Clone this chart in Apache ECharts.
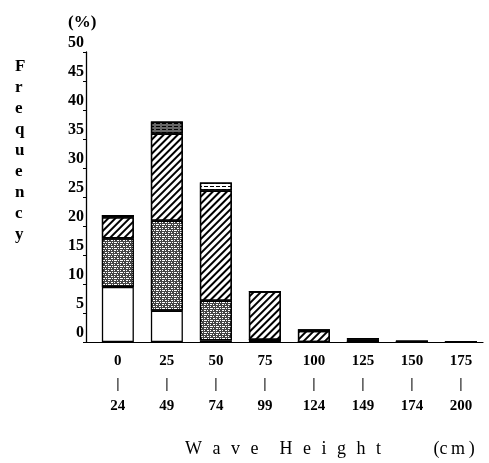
<!DOCTYPE html>
<html><head><meta charset="utf-8">
<script src="https://cdn.jsdelivr.net/npm/echarts@6/dist/echarts.min.js"></script>
<style>html,body{margin:0;padding:0;background:#fff}#c{width:489px;height:463px}</style>
</head><body><div id="c"></div>
<script>
// Wave height classes (cm)
var categories = ['0\n|\n24','25\n|\n49','50\n|\n74','75\n|\n99','100\n|\n124','125\n|\n149','150\n|\n174','175\n|\n200'];
// Frequency (%) by stacked segment, bottom to top
var whiteVals   = [9.5, 5.4, 0.3, 0.4, 0, 0, 0, 0];
var stippleVals = [8.4, 15.5, 6.8, 0, 0, 0, 0, 0];
var hatchVals   = [3.6, 15.0, 19.0, 8.3, 1.9, 0.4, 0, 0];
var topVals     = [0.4, 2.1, 1.4, 0, 0.3, 0.3, 0.25, 0.1];
var yTicks = [0,5,10,15,20,25,30,35,40,45,50];

var serif = '"Liberation Serif","DejaVu Serif",serif';
// value first, category index second (y is the stacked dimension)
function toData(arr){ return arr.map(function(v,i){ return [v, i]; }); }
var border = {borderColor:'#000', borderWidth:1.3};
var enc = {x:1, y:0};
var S = '\u2002\u200A';
var xTitle = ['W','a','v','e'].join(S) + S + S + ['H','e','i','g','h','t'].join(S) + S + S + S + S + S + '(c\u2009m\u2009)';

var chart = echarts.init(document.getElementById('c'), null, {renderer:'canvas'});
chart.setOption({
  animation:false,
  backgroundColor:'#fff',
  grid:{left:86, top:52, width:397, height:290},
  title:[
    {text:'(%)', left:63, top:9, textStyle:{fontFamily:serif, fontWeight:'bold', fontSize:17, color:'#000'}},
    {text:'F\nr\ne\nq\nu\ne\nn\nc\ny', left:10, top:51, textStyle:{fontFamily:serif, fontWeight:'bold', fontSize:17, lineHeight:21, color:'#000'}},
    {text:xTitle, left:180, top:435,
      textStyle:{fontFamily:serif, fontWeight:'normal', fontSize:18, color:'#000'}}
  ],
  xAxis:{
    type:'value', min:-0.65, max:7.45,
    splitLine:{show:false},
    axisLine:{show:true, onZero:false, lineStyle:{color:'#000', width:1.2}},
    axisTick:{show:false},
    axisLabel:{
      customValues:[0,1,2,3,4,5,6,7],
      formatter:function(v){ return categories[Math.round(v)]; },
      fontFamily:serif, fontWeight:'bold', fontSize:15, lineHeight:22.5, color:'#000', margin:8
    }
  },
  yAxis:{
    type:'value', min:0, max:50, interval:5,
    splitLine:{show:false},
    axisLine:{show:true, onZero:false, lineStyle:{color:'#000', width:1.3}},
    axisTick:{show:true, length:3, lineStyle:{color:'#000'}},
    axisLabel:{
      customValues:yTicks,
      fontFamily:serif, fontWeight:'bold', fontSize:16, color:'#000', margin:2,
      verticalAlign:'bottom', lineHeight:16, padding:[0,0,1,0]
    }
  },
  series:[
    {type:'bar', stack:'a', barWidth:32, encode:enc, data:toData(whiteVals),
      itemStyle:Object.assign({color:'#fff'}, border)},
    {type:'bar', stack:'a', barWidth:32, encode:enc, data:toData(stippleVals),
      itemStyle:Object.assign({color:'#444', decal:{symbol:'rect', symbolSize:1, dashArrayX:[[2,1,1,2],[1,2,2,1],[3,1,1,1]], dashArrayY:[1,1], color:'#fff'}}, border)},
    {type:'bar', stack:'a', barWidth:32, encode:enc, data:toData(hatchVals),
      itemStyle:Object.assign({color:'#fff', decal:{symbol:'rect', symbolSize:1, dashArrayX:[1,0], dashArrayY:[1.3,2.2], rotation:-Math.PI/4, color:'#000'}}, border)},
    {type:'bar', stack:'a', barWidth:32, encode:enc,
      data:topVals.map(function(v,i){ return i===1 ? {value:[v,i], itemStyle:{color:'#666'}} : [v,i]; }),
      itemStyle:Object.assign({color:'#fff', decal:{symbol:'rect', symbolSize:1, dashArrayX:[4,2], dashArrayY:[1,2], color:'#000'}}, border)}
  ]
});
</script></body></html>
